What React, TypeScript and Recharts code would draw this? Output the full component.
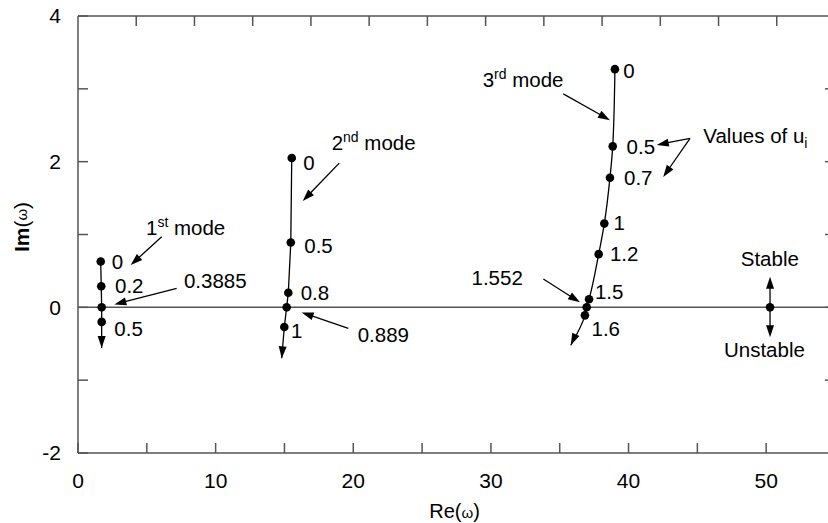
import React from 'react'
import {
  ComposedChart,
  Line,
  XAxis,
  YAxis,
  ReferenceLine,
  ReferenceDot,
  Label,
} from 'recharts'

// values of u_i and the matching omega (Re, Im) for each mode
const mode1U = ['0', '0.2', '0.3885', '0.5']
const mode1Re = [1.65, 1.69, 1.72, 1.72]
const mode1Im = [0.63, 0.29, 0, -0.2]
const mode1Tip = [1.72, -0.56]

const mode2U = ['0', '0.5', '0.8', '0.889', '1']
const mode2Re = [15.53, 15.46, 15.28, 15.16, 14.99]
const mode2Im = [2.05, 0.89, 0.2, 0, -0.27]
const mode2Tip = [14.8, -0.7]

const mode3U = ['0', '0.5', '0.7', '1', '1.2', '1.5', '1.552', '1.6']
const mode3Re = [39.01, 38.85, 38.65, 38.24, 37.83, 37.13, 36.96, 36.83]
const mode3Im = [3.27, 2.21, 1.78, 1.15, 0.73, 0.11, 0, -0.11]
const mode3Tip = [35.8, -0.52]

const stablePoint = [50.28, 0]

const X_MAX = 55
const Y_MIN = -2
const Y_MAX = 4
const xTicks = [0, 5, 10, 15, 20, 25, 30, 35, 40, 45, 50, 55]
const yTicks = [-2, -1, 0, 1, 2, 3, 4]
// the top frame is split in 13 equal parts
const TOP_PARTS = 13

interface Part {
  t: string
  sup?: boolean
  sub?: boolean
}

interface Note {
  re: number
  im: number
  parts: Part[]
}

// text notes, anchored at (Re, Im), baseline-left
const notes: Note[] = [
  { re: 4.94, im: 0.99, parts: [{ t: '1' }, { t: 'st', sup: true }, { t: ' mode' }] },
  { re: 2.45, im: 0.53, parts: [{ t: '0' }] },
  { re: 2.69, im: 0.2, parts: [{ t: '0.2' }] },
  { re: 7.7, im: 0.265, parts: [{ t: '0.3885' }] },
  { re: 2.64, im: -0.39, parts: [{ t: '0.5' }] },

  { re: 18.43, im: 2.16, parts: [{ t: '2' }, { t: 'nd', sup: true }, { t: ' mode' }] },
  { re: 16.37, im: 1.89, parts: [{ t: '0' }] },
  { re: 16.44, im: 0.745, parts: [{ t: '0.5' }] },
  { re: 16.18, im: 0.104, parts: [{ t: '0.8' }] },
  { re: 15.48, im: -0.42, parts: [{ t: '1' }] },
  { re: 20.32, im: -0.476, parts: [{ t: '0.889' }] },

  { re: 29.4, im: 3.03, parts: [{ t: '3' }, { t: 'rd', sup: true }, { t: ' mode' }] },
  { re: 39.62, im: 3.15, parts: [{ t: '0' }] },
  { re: 39.86, im: 2.11, parts: [{ t: '0.5' }] },
  { re: 39.67, im: 1.675, parts: [{ t: '0.7' }] },
  { re: 38.91, im: 1.057, parts: [{ t: '1' }] },
  { re: 38.65, im: 0.636, parts: [{ t: '1.2' }] },
  { re: 37.56, im: 0.118, parts: [{ t: '1.5' }] },
  { re: 37.31, im: -0.4, parts: [{ t: '1.6' }] },
  { re: 28.59, im: 0.306, parts: [{ t: '1.552' }] },

  { re: 45.43, im: 2.25, parts: [{ t: 'Values of u' }, { t: 'i', sub: true }] },
  { re: 48.15, im: 0.571, parts: [{ t: 'Stable' }] },
  { re: 46.93, im: -0.687, parts: [{ t: 'Unstable' }] },
]

// arrows [fromRe, fromIm, toRe, toIm]; headOnly ones sit on the end of a curve
const arrows = [
  { p: [6.08, 0.97, 3.83, 0.58] },
  { p: [7.17, 0.26, 2.64, 0.04] },
  { p: [18.98, 1.98, 16.33, 1.46] },
  { p: [19.64, -0.29, 16.25, -0.07] },
  { p: [35.26, 2.93, 38.65, 2.57] },
  { p: [33.81, 0.389, 36.47, 0.069] },
  { p: [44.47, 2.32, 42.05, 2.23] },
  { p: [44.47, 2.32, 42.52, 1.79] },
  { p: [50.28, 0, 50.28, 0.42] },
  { p: [50.28, 0, 50.28, -0.41] },
  { p: [1.72, -0.2, ...mode1Tip], headOnly: true },
  { p: [14.99, -0.27, ...mode2Tip], headOnly: true },
  { p: [36.83, -0.11, ...mode3Tip], headOnly: true },
]

const toSeries = (u: string[], re: number[], im: number[], tip: number[]) => [
  ...u.map((label, i) => ({ re: re[i], im: im[i], u: label })),
  { re: tip[0], im: tip[1] },
]

const mode1 = toSeries(mode1U, mode1Re, mode1Im, mode1Tip)
const mode2 = toSeries(mode2U, mode2Re, mode2Im, mode2Tip)
const mode3 = toSeries(mode3U, mode3Re, mode3Im, mode3Tip)

const FONT = '"Liberation Sans", Arial, Helvetica, sans-serif'
const AXIS = '#555'

// chart box; the plot area follows from these margins and axis sizes
const CHART_W = 845
const CHART_H = 523
const MARGIN = { top: 16, right: 10, bottom: 0, left: 0 }
const Y_AXIS_W = 78
const X_AXIS_H = 70
const PLOT_L = MARGIN.left + Y_AXIS_W
const PLOT_T = MARGIN.top
const PLOT_R = CHART_W - MARGIN.right
const PLOT_B = CHART_H - MARGIN.bottom - X_AXIS_H

const renderDot = (p: any) => {
  if (p.payload?.u == null) return <g key={p.key ?? `e${p.index}`} />
  return <circle key={p.key ?? `d${p.index}`} cx={p.cx} cy={p.cy} r={4.3} fill='#000' />
}

const arrowShape = (headOnly?: boolean) => (p: any) => {
  const { x1, y1, x2, y2 } = p
  const dx = x2 - x1
  const dy = y2 - y1
  const len = Math.hypot(dx, dy) || 1
  const ux = dx / len
  const uy = dy / len
  const hl = 12
  const hw = 4
  const bx = x2 - ux * hl
  const by = y2 - uy * hl
  const pts = `${x2},${y2} ${bx - uy * hw},${by + ux * hw} ${bx + uy * hw},${by - ux * hw}`
  return (
    <g>
      {!headOnly && (
        <line x1={x1} y1={y1} x2={bx + ux * 2} y2={by + uy * 2} stroke='#000' strokeWidth={1.3} />
      )}
      <polygon points={pts} fill='#000' />
    </g>
  )
}

const noteShape = (n: Note) => (p: any) => (
  <text x={p.cx} y={p.cy} fontFamily={FONT} fontSize={20.5} fill='#000'>
    {n.parts.map((part, i) => {
      const prev = n.parts[i - 1]
      let dy = 0
      if (part.sup) dy = -8
      else if (part.sub) dy = 5
      else if (prev?.sup) dy = 8
      else if (prev?.sub) dy = -5
      return (
        <tspan key={i} dy={dy} fontSize={part.sup || part.sub ? 14 : 20.5}>
          {part.t}
        </tspan>
      )
    })}
  </text>
)

const xLabel = (props: any) => {
  const vb = props.viewBox
  const cx = vb.x + vb.width / 2 - 2
  return (
    <text x={cx} y={vb.y + 65} textAnchor='middle' fontFamily={FONT} fontSize={20} fill='#000'>
      Re(<tspan fontSize={15}>ω</tspan>)
    </text>
  )
}

const yLabel = () => {
  const cx = 21
  const cy = 227
  return (
    <text
      x={cx}
      y={cy}
      transform={`rotate(-90 ${cx} ${cy})`}
      textAnchor='middle'
      dominantBaseline='central'
      fontFamily={FONT}
      fontSize={21}
      fill='#000'
    >
      <tspan fontWeight='bold'>Im</tspan>(<tspan fontSize={15}>ω</tspan>)
    </text>
  )
}

// top and right sides of the box with their inward ticks
const Frame = () => {
  const plotW = PLOT_R - PLOT_L
  const plotH = PLOT_B - PLOT_T
  const tops = Array.from({ length: TOP_PARTS - 1 }, (_, i) => PLOT_L + ((i + 1) * plotW) / TOP_PARTS)
  const rights = yTicks.slice(1, -1).map((v) => PLOT_B - ((v - Y_MIN) / (Y_MAX - Y_MIN)) * plotH)
  return (
    <svg
      width={CHART_W}
      height={CHART_H}
      style={{ position: 'absolute', left: 0, top: 0, pointerEvents: 'none' }}
    >
      <line x1={PLOT_L} x2={PLOT_R} y1={PLOT_T} y2={PLOT_T} stroke={AXIS} strokeWidth={1.5} />
      <line x1={PLOT_R} x2={PLOT_R} y1={PLOT_T} y2={PLOT_B} stroke={AXIS} strokeWidth={1.5} />
      {tops.map((x, i) => (
        <line key={`t${i}`} x1={x} x2={x} y1={PLOT_T} y2={PLOT_T + 10} stroke={AXIS} strokeWidth={1.5} />
      ))}
      {rights.map((y, i) => (
        <line key={`r${i}`} x1={PLOT_R} x2={PLOT_R - 10} y1={y} y2={y} stroke={AXIS} strokeWidth={1.5} />
      ))}
    </svg>
  )
}

const tickStyle = { fontFamily: FONT, fontSize: 21, fill: '#000' }

export default function App() {
  return (
    <div style={{ position: 'absolute', left: 0, top: 0, width: 828, height: 523, overflow: 'hidden', background: '#fff' }}>
      <ComposedChart width={CHART_W} height={CHART_H} margin={MARGIN}>
        <XAxis
          dataKey='re'
          type='number'
          domain={[0, X_MAX]}
          ticks={xTicks}
          interval={0}
          allowDataOverflow
          height={X_AXIS_H}
          tickSize={-10}
          tickMargin={30}
          tickFormatter={(v: number) => (v % 10 === 0 && v <= 50 ? String(v) : '')}
          tick={tickStyle}
          stroke={AXIS}
          strokeWidth={1.5}
        >
          <Label content={xLabel} />
        </XAxis>
        <YAxis
          type='number'
          domain={[Y_MIN, Y_MAX]}
          ticks={yTicks}
          interval={0}
          allowDataOverflow
          width={Y_AXIS_W}
          tickSize={-10}
          tickMargin={27}
          tickFormatter={(v: number) => (v % 2 === 0 ? String(v) : '')}
          tick={tickStyle}
          stroke={AXIS}
          strokeWidth={1.5}
        >
          <Label content={yLabel} />
        </YAxis>

        <ReferenceLine y={0} stroke={AXIS} strokeWidth={1.5} />

        <Line data={mode1} dataKey='im' type='linear' stroke='#000' strokeWidth={1.3} dot={renderDot} activeDot={false} isAnimationActive={false} />
        <Line data={mode2} dataKey='im' type='linear' stroke='#000' strokeWidth={1.3} dot={renderDot} activeDot={false} isAnimationActive={false} />
        <Line data={mode3} dataKey='im' type='monotoneY' stroke='#000' strokeWidth={1.3} dot={renderDot} activeDot={false} isAnimationActive={false} />

        <ReferenceDot x={stablePoint[0]} y={stablePoint[1]} r={4.3} fill='#000' stroke='none' ifOverflow='visible' />

        {arrows.map((a, i) => (
          <ReferenceLine
            key={`a${i}`}
            segment={[
              { x: a.p[0], y: a.p[1] },
              { x: a.p[2], y: a.p[3] },
            ]}
            ifOverflow='visible'
            shape={arrowShape(a.headOnly)}
          />
        ))}

        {notes.map((n, i) => (
          <ReferenceDot key={`n${i}`} x={n.re} y={n.im} r={0} ifOverflow='visible' shape={noteShape(n)} />
        ))}
      </ComposedChart>
      <Frame />
    </div>
  )
}
